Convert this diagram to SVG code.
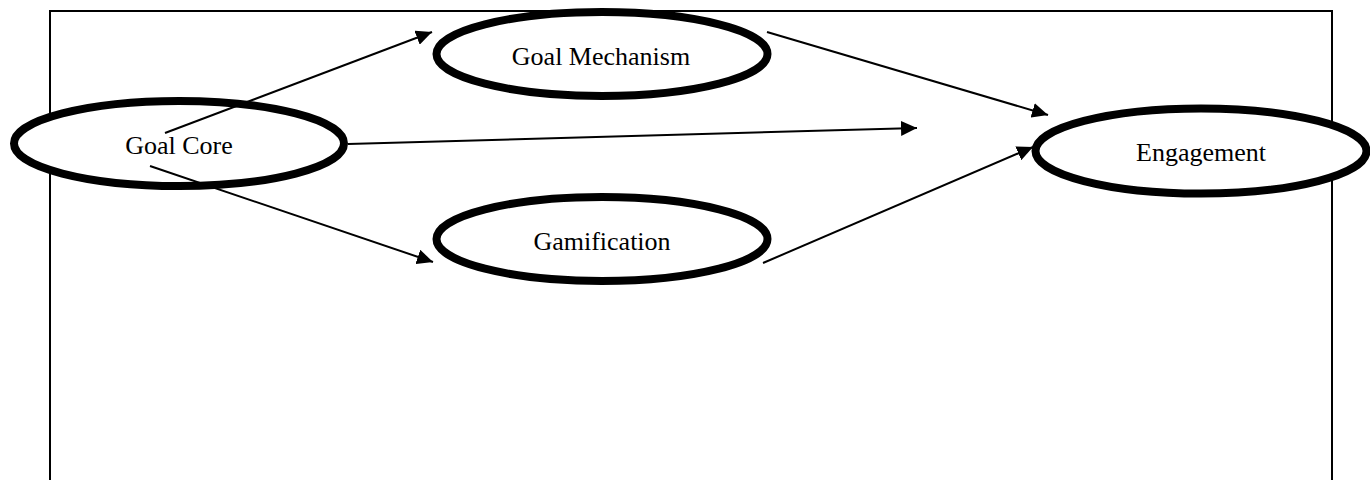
<svg xmlns="http://www.w3.org/2000/svg" width="1370" height="480" viewBox="0 0 1370 480">
<style>
.frame{fill:none;stroke:#000;stroke-width:2}
.node ellipse{fill:#fff;stroke:#000;stroke-width:8}
.node text{font-family:"Liberation Serif","Times New Roman",serif;font-size:26px;fill:#000;text-anchor:middle}
.edge{stroke:#000;stroke-width:2;fill:none;marker-end:url(#arr)}
</style>
<defs>
<marker id="arr" viewBox="0 0 16 15" refX="16" refY="7.5" markerWidth="16" markerHeight="15" markerUnits="userSpaceOnUse" orient="auto">
<path d="M0,0 L16,7.5 L0,15 z" fill="#000"/>
</marker>
</defs>
<rect width="1370" height="480" fill="#fff"/>
<path class="frame" d="M50,481 L50,11 L1332,11 L1332,481"/>
<g id="goal-core" class="node">
<ellipse cx="179" cy="143.5" rx="165" ry="42.5"/>
<text x="179" y="154">Goal Core</text>
</g>
<g id="goal-mechanism" class="node">
<ellipse cx="602" cy="54" rx="165.5" ry="42"/>
<text x="601" y="65">Goal Mechanism</text>
</g>
<g id="gamification" class="node">
<ellipse cx="602" cy="239" rx="165.5" ry="42"/>
<text x="602" y="250">Gamification</text>
</g>
<g id="engagement" class="node">
<ellipse cx="1201" cy="151" rx="165.5" ry="42.5"/>
<text x="1201" y="161">Engagement</text>
</g>
<g id="connectors">
<line class="edge" x1="165" y1="133" x2="432" y2="32"/>
<line class="edge" x1="150" y1="166" x2="433" y2="262"/>
<line class="edge" x1="348" y1="144" x2="917" y2="128"/>
<line class="edge" x1="767" y1="32" x2="1048" y2="115"/>
<line class="edge" x1="763" y1="263" x2="1033" y2="147"/>
</g>
</svg>
